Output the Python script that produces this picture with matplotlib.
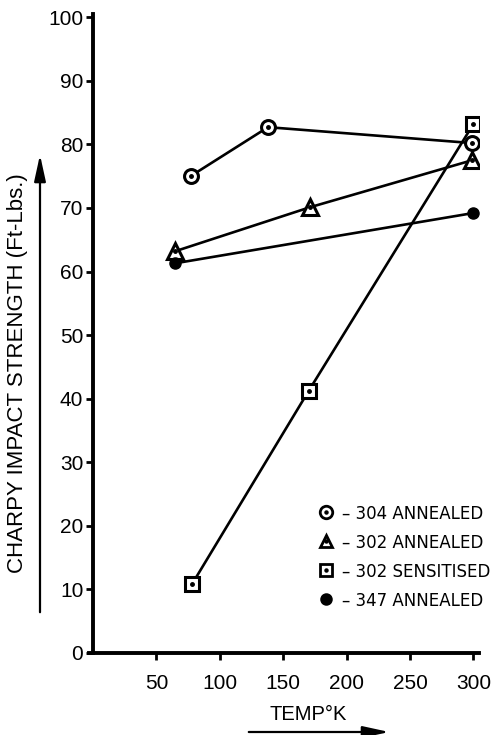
import matplotlib
matplotlib.use("Agg")
import matplotlib.pyplot as plt
from matplotlib.lines import Line2D

plt.rcParams['font.family'] = ['Liberation Sans', 'DejaVu Sans']

# ---- data ----
x_304a = [77, 138, 299]
y_304a = [75.0, 82.7, 80.2]
x_302a = [65, 171, 299]
y_302a = [63.2, 70.1, 77.5]
x_302s = [78, 170, 300]
y_302s = [10.8, 41.2, 83.2]
x_347a = [65, 300]
y_347a = [61.3, 69.2]

labels = ["– 304 ANNEALED", "– 302 ANNEALED", "– 302 SENSITISED", "– 347 ANNEALED"]
xticks = [50, 100, 150, 200, 250, 300]
yticks = [0, 10, 20, 30, 40, 50, 60, 70, 80, 90, 100]

W, H = 494, 735
fig = plt.figure(figsize=(W / 100, H / 100), dpi=100)
ax = fig.add_axes([93 / W, 1 - 653 / H, 385.5 / W, 639 / H])
ax.set_xlim(0, 304)
ax.set_ylim(0, 100.5)

lw = 1.9
ms = 10
ax.plot(x_304a, y_304a, '-', color='black', lw=lw, marker='o', ms=ms, mfc='white', mec='black', mew=2.2, zorder=3)
ax.plot(x_304a, y_304a, 'o', color='black', ms=2.5, zorder=4)
ax.plot(x_302a, y_302a, '-', color='black', lw=lw, marker='^', ms=ms + 1, mfc='white', mec='black', mew=2.2, zorder=3)
ax.plot(x_302a, y_302a, 'o', color='black', ms=2.5, zorder=4)
ax.plot(x_302s, y_302s, '-', color='black', lw=lw, marker='s', ms=ms, mfc='white', mec='black', mew=2.2, zorder=3)
ax.plot(x_302s, y_302s, 'o', color='black', ms=2.5, zorder=4)
ax.plot(x_347a, y_347a, '-', color='black', lw=lw, marker='o', ms=8, mfc='black', mec='black', zorder=3)

for s in ['top', 'right']:
    ax.spines[s].set_visible(False)
for s in ['left', 'bottom']:
    ax.spines[s].set_linewidth(2.8)
ax.spines['bottom'].set_bounds(-3, 304)

ax.set_xticks(xticks)
ax.set_yticks(yticks)
ax.tick_params(axis='both', direction='out', length=5, width=2, labelsize=15)
ax.tick_params(axis='x', pad=10)
ax.tick_params(axis='y', pad=2)

# legend
def h(marker, ms_, filled=False):
    base = Line2D([], [], ls='none', marker=marker, ms=ms_, mfc='black' if filled else 'white',
                  mec='black', mew=2.0)
    dot = Line2D([], [], ls='none', marker='o', ms=2.2, color='black')
    return base if filled else (base, dot)

handles = [h('o', 9), h('^', 8), h('s', 8), h('o', 7, True)]
leg = ax.legend(handles, labels, loc='lower left', bbox_to_anchor=(0.56, 0.056),
                frameon=False, handlelength=1.0, handletextpad=0.4, labelspacing=0.6,
                borderaxespad=0,
                prop={'family': 'DejaVu Sans', 'stretch': 'condensed', 'size': 13.3})

# axis labels with arrows
fig.text(18 / W, 1 - 373 / H, "CHARPY IMPACT STRENGTH (Ft-Lbs.)", rotation=90,
         ha='center', va='center', fontsize=16)
fig.text(308 / W, 1 - 715 / H, "TEMP°K", ha='center', va='center', fontsize=14.5)
ax.annotate("", xy=(40 / W, 1 - 152 / H), xytext=(40 / W, 1 - 615 / H), xycoords='figure fraction',
            textcoords='figure fraction',
            arrowprops=dict(arrowstyle='-|>,head_length=1.6,head_width=0.35', lw=1.6, color='black'))
ax.annotate("", xy=(392 / W, 1 - 732 / H), xytext=(246 / W, 1 - 732 / H), xycoords='figure fraction',
            textcoords='figure fraction',
            arrowprops=dict(arrowstyle='-|>,head_length=1.6,head_width=0.35', lw=1.6, color='black'))

fig.savefig("out.png", dpi=100)
